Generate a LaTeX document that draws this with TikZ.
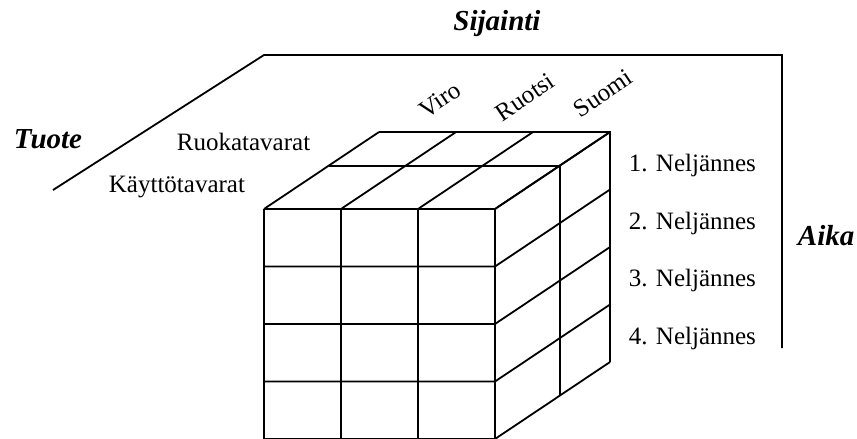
\documentclass[tikz,border=0pt]{standalone}
\usepackage{fontspec}
\setmainfont{Liberation Serif}
\tikzset{
  dimname/.style={font=\fontsize{29}{34}\selectfont\bfseries\itshape, inner sep=0pt},
  member/.style={font=\fontsize{25}{30}\selectfont, inner sep=0pt},
}
\begin{document}
\begin{tikzpicture}[x=1pt,y=-1pt,line width=1.8pt]
  \useasboundingbox (0,0) rectangle (857,439);
  % frame around the cube
  \draw (53,190) -- (264,55) -- (782,55) -- (782,348);
  % front columns and top edges
  \foreach \i in {0,...,3}
    \draw (264+77*\i,209) -- ++(0,230)
    (264+77*\i,209) -- ++(115,-77);
  % rows, running on round the side
  \foreach \j in {0,...,4}
    \draw (264,209+57.5*\j) -- ++(231,0) -- ++(115,-77);
  % layers in depth
  \draw (329,166) -- ++(231,0) -- ++(0,230);
  \draw (379,132) -- ++(231,0) -- ++(0,230);
  % dimension names
  \node[dimname,anchor=base] (sijainti) at (497,30) {Sijainti};
  \node[dimname,anchor=base west] (tuote) at (13,148) {Tuote};
  \node[dimname,anchor=base west] (aika) at (797,245) {Aika};
  % members
  \node[member,anchor=base west] (ruoka) at (176,150) {Ruokatavarat};
  \node[member,anchor=base west] (kaytto) at (108,192) {Käyttötavarat};
  \node[member,rotate=34] (viro) at (440,100) {Viro};
  \node[member,rotate=34] (ruotsi) at (525,97) {Ruotsi};
  \node[member,rotate=34] (suomi) at (603,93) {Suomi};
  \foreach \k in {1,...,4}
    \node[member,anchor=base west] (q\k) at (628,114+57.5*\k) {\k. Neljännes};
\end{tikzpicture}
\end{document}
